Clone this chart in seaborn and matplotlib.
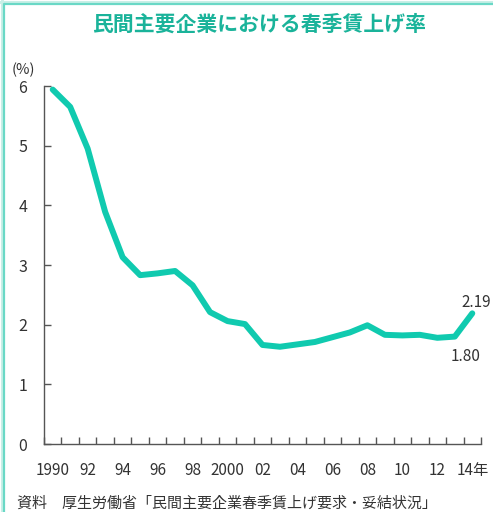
import pandas as pd
import seaborn as sns
import matplotlib.pyplot as plt
from matplotlib.lines import Line2D
from matplotlib.ticker import MultipleLocator, FixedLocator

# 春季賃上げ率 (%)
years = list(range(1990, 2015))
rates = [5.94, 5.65, 4.95, 3.89, 3.13, 2.83, 2.86, 2.90, 2.66, 2.21,
         2.06, 2.01, 1.66, 1.63, 1.67, 1.71, 1.79, 1.87, 1.99, 1.83,
         1.82, 1.83, 1.78, 1.80, 2.19]
tick_years = list(range(1990, 2015, 2))
tick_labels = ['1990', '92', '94', '96', '98', '2000', '02', '04', '06', '08', '10', '12', '14年']

df = pd.DataFrame({'year': years, 'rate': rates})

sns.set_style('ticks')
plt.rcParams['font.family'] = ['Noto Sans CJK JP', 'DejaVu Sans']

teal = '#10caaf'
text_col = '#333333'

fig = plt.figure(figsize=(4.93, 5.12), dpi=100)
ax = fig.add_axes([0.0892, 0.1328, 0.8865, 0.6992])

sns.lineplot(data=df, x='year', y='rate', ax=ax, color=teal, linewidth=4.3,
             solid_capstyle='round', solid_joinstyle='round')

ax.set_xlim(1989.5, 2014.5)
ax.set_ylim(0, 6)
sns.despine(ax=ax)
for s in ['left', 'bottom']:
    ax.spines[s].set_color('#555555')
    ax.spines[s].set_linewidth(1.0)

ax.yaxis.set_major_locator(MultipleLocator(1))
ax.tick_params(axis='y', direction='in', length=5, width=1, color='#555555',
               labelsize=11.5, labelcolor=text_col, pad=12)
ax.xaxis.set_major_locator(FixedLocator(tick_years))
ax.set_xticklabels(tick_labels)
ax.xaxis.set_minor_locator(FixedLocator([y - 0.5 for y in years] + [2014.5]))
ax.tick_params(axis='x', which='major', length=0, labelsize=11, labelcolor=text_col, pad=13)
ax.tick_params(axis='x', which='minor', direction='in', length=5, width=1, color='#555555')
ax.set_xlabel('')
ax.set_ylabel('')

ax.annotate('2.19', xy=(2014, 2.19), xytext=(2.5, 8), textcoords='offset points',
            ha='center', va='center', fontsize=11, color=text_col)
ax.annotate('1.80', xy=(2013, 1.80), xytext=(8, -14), textcoords='offset points',
            ha='center', va='center', fontsize=11, color=text_col)

fig.text(0.0466, 0.863, '(%)', ha='center', va='center', fontsize=10.5, color=text_col)
fig.text(0.525, 0.953, '民間主要企業における春季賃上げ率', ha='center', va='center',
         fontsize=15, fontweight='bold', color='#1ab39a')
fig.text(0.035, 0.017, '資料\u3000厚生労働省「民間主要企業春季賃上げ要求・妥結状況」',
         ha='left', va='center', fontsize=10.8, color=text_col)

# 枠線
fig.add_artist(Line2D([0, 1], [1 - 1.5 / 512, 1 - 1.5 / 512], transform=fig.transFigure,
                      color='#c9efe7', linewidth=2.2))
fig.add_artist(Line2D([0.0061, 1], [1 - 4 / 512, 1 - 4 / 512], transform=fig.transFigure,
                      color='#6ad8c6', linewidth=1.6))
fig.add_artist(Line2D([1.5 / 493, 1.5 / 493], [0, 1], transform=fig.transFigure,
                      color='#c9efe7', linewidth=2.2))
fig.add_artist(Line2D([3.5 / 493, 3.5 / 493], [0, 1 - 4 / 512], transform=fig.transFigure,
                      color='#6ad8c6', linewidth=1.6))

fig.savefig('out.png', dpi=100)
